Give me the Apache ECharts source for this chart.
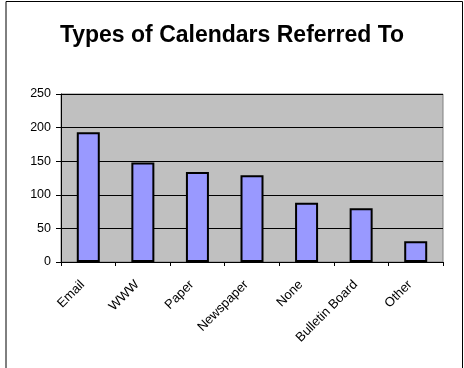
<!DOCTYPE html>
<html>
<head>
<meta charset="utf-8">
<script src="https://cdn.jsdelivr.net/npm/echarts@6/dist/echarts.min.js"></script>
<style>
  html, body { margin: 0; padding: 0; background: #fff; }
  #chart { width: 464px; height: 368px; }
</style>
</head>
<body>
<div id="chart"></div>
<script>
// Calendar types and how many respondents referred to each
const categories = ['Email', 'WWW', 'Paper', 'Newspaper', 'None', 'Bulletin Board', 'Other'];
const counts = [193, 148, 134, 129, 88, 80, 31];
const yTicks = [0, 50, 100, 150, 200, 250];

const chart = echarts.init(document.getElementById('chart'), null, { renderer: 'canvas' });

const FONT = 'Liberation Sans, Arial, sans-serif';

const option = {
  animation: false,
  backgroundColor: '#ffffff',
  textStyle: { fontFamily: FONT },
  title: {
    text: 'Types of Calendars Referred To',
    left: 'center',
    top: 19,
    textStyle: { fontSize: 23, fontWeight: 'bold', color: '#000', fontFamily: FONT }
  },
  graphic: [
    {
      // outer frame of the chart area
      type: 'polyline',
      silent: true,
      shape: { points: [[6, 368], [6, 1.5], [462.5, 1.5], [462.5, 368]] },
      style: { stroke: '#000', lineWidth: 1, fill: null }
    }
  ],
  grid: {
    left: 61,
    right: 21,
    top: 94,
    bottom: 106,
    show: true,
    backgroundColor: '#c0c0c0',
    borderColor: '#808080',
    borderWidth: 1
  },
  xAxis: {
    type: 'category',
    data: categories,
    axisLine: { lineStyle: { color: '#000', width: 1 } },
    axisTick: { show: true, alignWithLabel: false, length: 4, lineStyle: { color: '#000' } },
    axisLabel: {
      rotate: 45,
      margin: 15,
      padding: [0, 8, 0, 0],
      fontSize: 13,
      color: '#000',
      fontFamily: FONT
    }
  },
  yAxis: {
    type: 'value',
    min: yTicks[0],
    max: yTicks[yTicks.length - 1],
    interval: 50,
    axisLine: { show: true, lineStyle: { color: '#000', width: 1 } },
    axisTick: { show: true, length: 5, lineStyle: { color: '#000' } },
    axisLabel: {
      margin: 10,
      fontSize: 12.5,
      color: '#000',
      fontFamily: FONT
    },
    splitLine: { show: true, lineStyle: { color: '#000', width: 1 } }
  },
  series: [
    {
      type: 'bar',
      data: counts,
      barWidth: 23,
      itemStyle: { color: '#9999ff', borderColor: '#000', borderWidth: 2 }
    }
  ]
};

chart.setOption(option);
</script>
</body>
</html>
